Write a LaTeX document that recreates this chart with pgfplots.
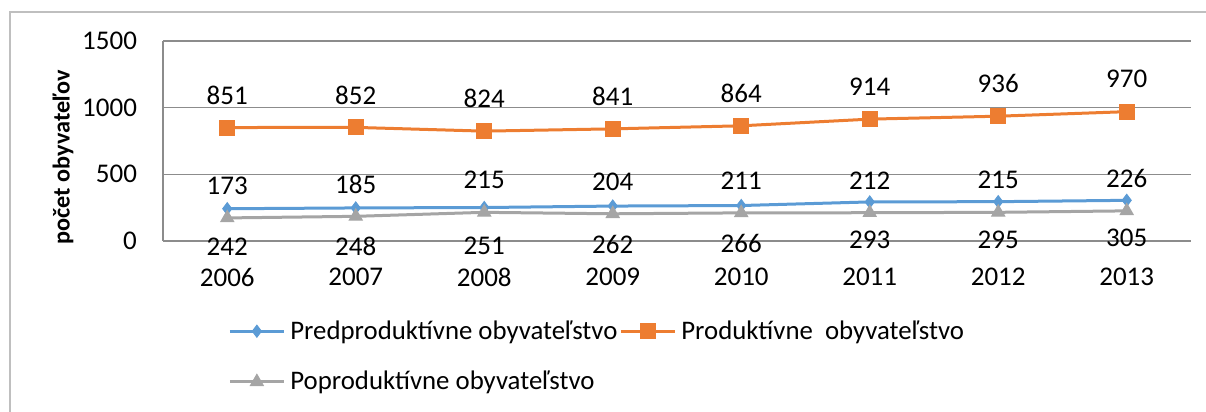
\documentclass[border=0pt]{standalone}
\usepackage{pgfplots}
\pgfplotsset{compat=1.18}
\usepackage{fontspec}
\setmainfont{Carlito}
\definecolor{cblue}{HTML}{5B9BD5}
\definecolor{corange}{HTML}{ED7D31}
\definecolor{cgray}{HTML}{A5A5A5}
\definecolor{cgrid}{HTML}{8C8C8C}
\definecolor{cborder}{HTML}{BFBFBF}
\newcommand{\lgt}[1]{{\fontsize{13.4}{15}\selectfont #1}}
\begin{document}
\begin{tikzpicture}
\draw[color=cborder, line width=1pt] (5pt,-5pt) -- (5pt,200pt) -- (610pt,200pt);
\begin{axis}[
  at={(81.5pt,85.5pt)}, anchor=south west,
  scale only axis, width=514pt, height=100pt,
  xmin=-0.5, xmax=7.5, ymin=0, ymax=1500,
  xtick={0,...,7}, xticklabels={2006,2007,2008,2009,2010,2011,2012,2013},
  ytick={0,500,1000,1500},
  /pgf/number format/1000 sep={},
  axis lines*=left,
  axis line style={cgrid, line width=0.75pt},
  ymajorgrids, grid style={cgrid, line width=0.75pt},
  major tick length=0pt,
  clip=false,
  /pgf/number format/assume math mode=true,
  tick label style={font=\fontsize{13.5}{15}\selectfont},
  yticklabel style={anchor=east, xshift=-9.5pt},
  xticklabel style={anchor=center, yshift=-18pt},
  ylabel={počet obyvateľov},
  ylabel style={at={(axis description cs:-0.0973,0.42)}, anchor=center, font=\fontsize{12.1}{15}\selectfont\bfseries},
  nodes near coords,
  nodes near coords style={font=\fontsize{13.5}{15}\selectfont, anchor=center, text=black},
  legend columns=2,
  legend cell align=left,
  legend style={draw=none, fill=none, inner sep=0pt, at={(axis description cs:0.0632,-0.385)}, anchor=north west,
    nodes={inner sep=1pt}, row sep=12.5pt,
    /tikz/every even column/.append style={column sep=0pt},
    /tikz/every odd column/.append style={column sep=1.5pt}},
  legend image code/.code={\draw[mark repeat=2,mark phase=2,#1] plot coordinates {(0pt,0pt) (13.5pt,0pt) (27pt,0pt)};},
]
\addplot[cblue, line width=1.5pt, mark=diamond*, mark size=3pt, mark options={fill=cblue, draw=cblue, line width=0.5pt},
  nodes near coords style={yshift=-19pt}]
  coordinates {(0,242) (1,248) (2,251) (3,262) (4,266) (5,293) (6,295) (7,305)};
\addlegendentry{\lgt{Predproduktívne obyvateľstvo}}
\addplot[corange, line width=1.5pt, mark=square*, mark size=3.75pt, mark options={fill=corange, draw=corange, line width=0.5pt},
  nodes near coords style={yshift=16.25pt}]
  coordinates {(0,851) (1,852) (2,824) (3,841) (4,864) (5,914) (6,936) (7,970)};
\addlegendentry{\lgt{Produktívne\ \ obyvateľstvo}}
\addplot[cgray, line width=1.5pt, mark=triangle*, mark size=3.75pt, mark options={fill=cgray, draw=cgray, line width=0.5pt},
  nodes near coords style={yshift=16pt}]
  coordinates {(0,173) (1,185) (2,215) (3,204) (4,211) (5,212) (6,215) (7,226)};
\addlegendentry{\lgt{Poproduktívne obyvateľstvo}}
\end{axis}
\pgfresetboundingbox
\useasboundingbox (0,0) rectangle (603pt,206pt);
\end{tikzpicture}
\end{document}
